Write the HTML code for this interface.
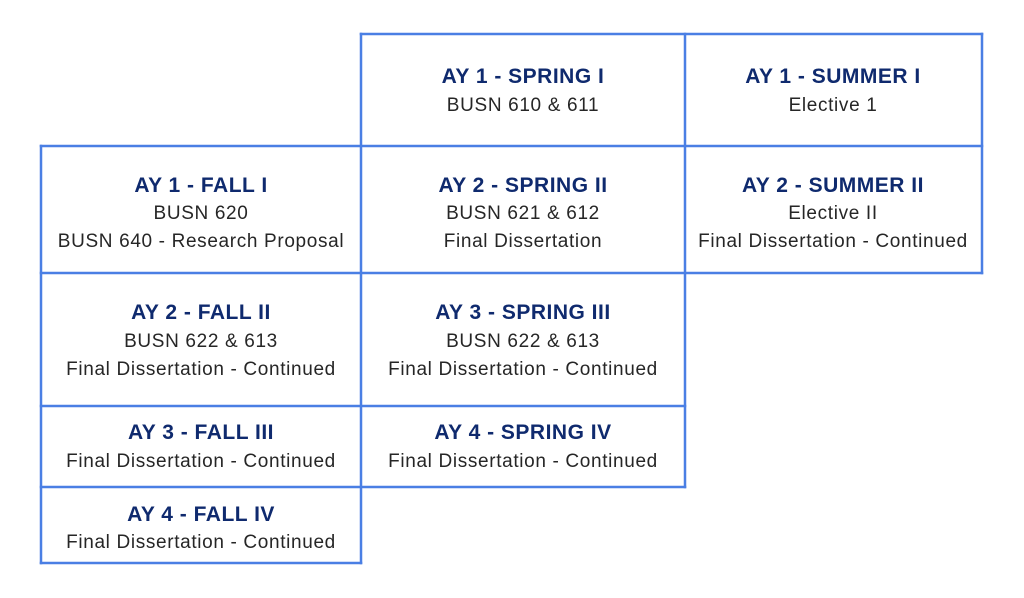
<!DOCTYPE html>
<html>
<head>
<meta charset="utf-8">
<style>
  html,body{margin:0;padding:0;background:#fff;}
  body{width:1024px;height:598px;position:relative;overflow:hidden;font-family:"Liberation Sans",Arial,sans-serif;}
  svg{position:absolute;left:0;top:0;}
  .t{position:absolute;width:320px;margin-left:-160px;text-align:center;height:28px;line-height:28px;white-space:nowrap;}
  .h{font-weight:bold;font-size:21px;color:#0f2a6e;letter-spacing:0.5px;}
  .b{font-size:19px;color:#262626;letter-spacing:0.65px;}
</style>
</head>
<body>
<svg width="1024" height="598" viewBox="0 0 1024 598">
  <g stroke="#4a7fe4" stroke-width="2.5" fill="none" stroke-linecap="square">
    <line x1="361" y1="34" x2="982" y2="34"/>
    <line x1="41" y1="146" x2="982" y2="146"/>
    <line x1="41" y1="273" x2="982" y2="273"/>
    <line x1="41" y1="406" x2="685" y2="406"/>
    <line x1="41" y1="487" x2="685" y2="487"/>
    <line x1="41" y1="563" x2="361" y2="563"/>
    <line x1="41" y1="146" x2="41" y2="563"/>
    <line x1="361" y1="34" x2="361" y2="563"/>
    <line x1="685" y1="34" x2="685" y2="487"/>
    <line x1="982" y1="34" x2="982" y2="273"/>
  </g>
</svg>

<!-- Row 0 -->
<div class="t h" style="left:523px;top:63px;">AY 1 - SPRING I</div>
<div class="t b" style="left:523px;top:92px;">BUSN 610 &amp; 611</div>
<div class="t h" style="left:833px;top:63px;">AY 1 - SUMMER I</div>
<div class="t b" style="left:833px;top:92px;">Elective 1</div>

<!-- Row 1 -->
<div class="t h" style="left:201px;top:172px;">AY 1 - FALL I</div>
<div class="t b" style="left:201px;top:200px;">BUSN 620</div>
<div class="t b" style="left:201px;top:228px;">BUSN 640 - Research Proposal</div>
<div class="t h" style="left:523px;top:172px;">AY 2 - SPRING II</div>
<div class="t b" style="left:523px;top:200px;">BUSN 621 &amp; 612</div>
<div class="t b" style="left:523px;top:228px;">Final Dissertation</div>
<div class="t h" style="left:833px;top:172px;">AY 2 - SUMMER II</div>
<div class="t b" style="left:833px;top:200px;">Elective II</div>
<div class="t b" style="left:833px;top:228px;">Final Dissertation - Continued</div>

<!-- Row 2 -->
<div class="t h" style="left:201px;top:299px;">AY 2 - FALL II</div>
<div class="t b" style="left:201px;top:328px;">BUSN 622 &amp; 613</div>
<div class="t b" style="left:201px;top:356px;">Final Dissertation - Continued</div>
<div class="t h" style="left:523px;top:299px;">AY 3 - SPRING III</div>
<div class="t b" style="left:523px;top:328px;">BUSN 622 &amp; 613</div>
<div class="t b" style="left:523px;top:356px;">Final Dissertation - Continued</div>

<!-- Row 3 -->
<div class="t h" style="left:201px;top:419px;">AY 3 - FALL III</div>
<div class="t b" style="left:201px;top:448px;">Final Dissertation - Continued</div>
<div class="t h" style="left:523px;top:419px;">AY 4 - SPRING IV</div>
<div class="t b" style="left:523px;top:448px;">Final Dissertation - Continued</div>

<!-- Row 4 -->
<div class="t h" style="left:201px;top:501px;">AY 4 - FALL IV</div>
<div class="t b" style="left:201px;top:529px;">Final Dissertation - Continued</div>
</body>
</html>
